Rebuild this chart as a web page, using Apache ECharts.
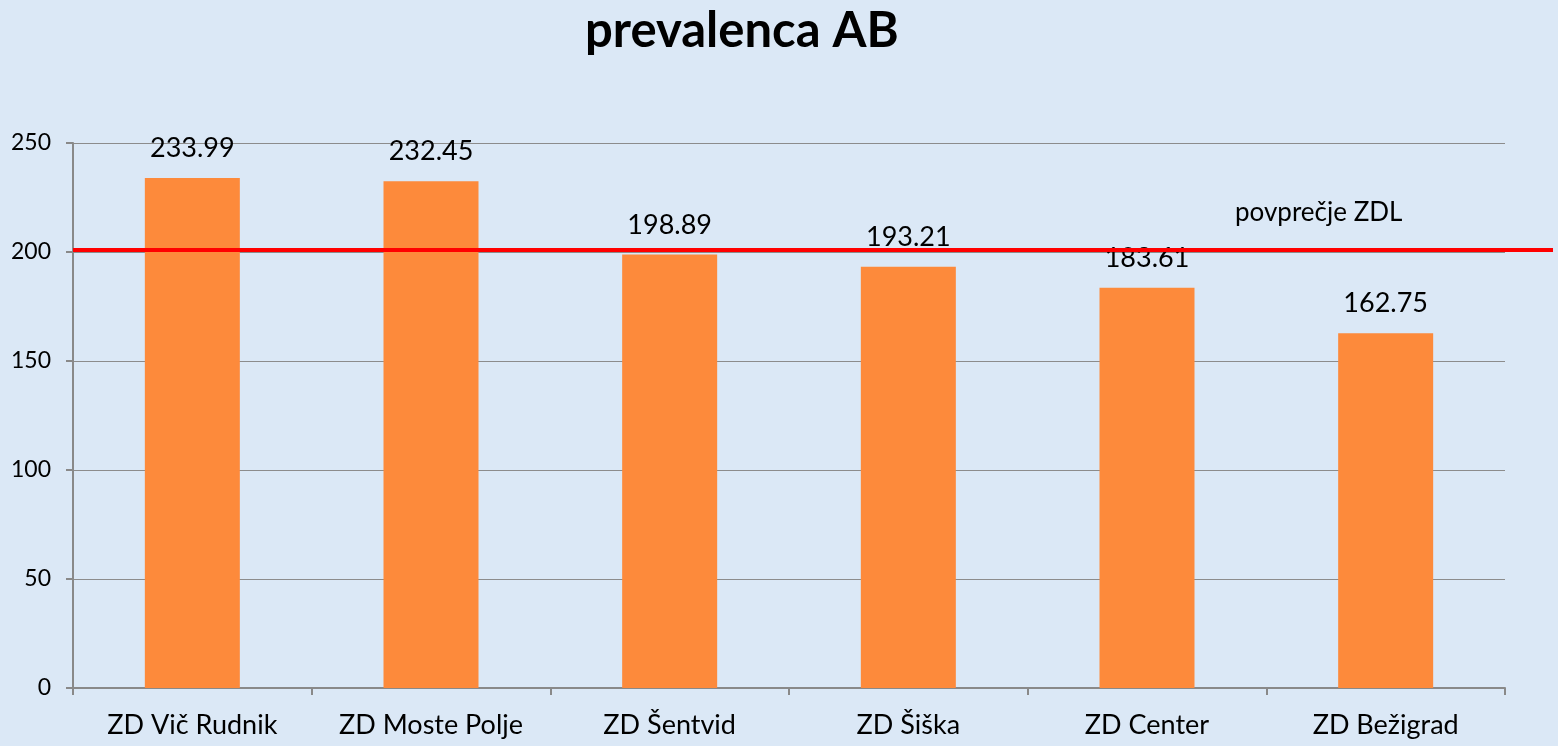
<!DOCTYPE html>
<html>
<head>
<meta charset="utf-8">
<script src="https://cdn.jsdelivr.net/npm/echarts@6/dist/echarts.min.js"></script>
<style>
html,body{margin:0;padding:0;background:#dbe8f6;}
#chart{width:1558px;height:746px;}
</style>
</head>
<body>
<div id="chart"></div>
<script>
var categories=['ZD Vič Rudnik','ZD Moste Polje','ZD Šentvid','ZD Šiška','ZD Center','ZD Bežigrad'];
var values=[233.99,232.45,198.89,193.21,183.61,162.75];
var avgValue=201;
var avgLabel='povprečje ZDL';
var yTicks=[0,50,100,150,200,250];

var font='Lato, "Open Sans", sans-serif';
var chart=echarts.init(document.getElementById('chart'));
var option={
	backgroundColor:'#dbe8f6',
	animation:false,
	title:{
		text:'prevalenca AB',
		left:580,
		top:2,
		textStyle:{fontFamily:font,fontSize:49,fontWeight:'bold',color:'#000'}
	},
	grid:{left:73,right:53,top:143,bottom:58},
	xAxis:{
		type:'category',
		data:categories,
		axisLine:{lineStyle:{color:'#898989',width:2}},
		axisTick:{show:true,length:7,lineStyle:{color:'#898989',width:2}},
		axisLabel:{interval:0,fontFamily:font,fontSize:27,color:'#000',margin:24}
	},
	yAxis:{
		type:'value',
		min:yTicks[0],
		max:yTicks[yTicks.length-1],
		interval:50,
		axisLine:{show:true,lineStyle:{color:'#898989',width:2}},
		axisTick:{show:true,length:7,lineStyle:{color:'#898989',width:2}},
		axisLabel:{fontFamily:font,fontSize:23,color:'#000',margin:22},
		splitLine:{lineStyle:{color:'#8c8c8c',width:1}}
	},
	series:[{
		type:'bar',
		data:values,
		barWidth:95,
		itemStyle:{color:'#fd8a3b'},
		label:{
			show:true,
			position:'top',
			distance:16,
			fontFamily:font,
			fontSize:27,
			color:'#000',
			formatter:function(p){return p.value.toFixed(2);}
		}
	}]
};
chart.setOption(option);

// prosečna črta sega prek celotne širine, zato jo rišem v pikslih
var py=chart.convertToPixel({yAxisIndex:0},avgValue);
chart.setOption({
	series:[{
		markLine:{
			silent:true,
			symbol:'none',
			lineStyle:{color:'#ff0000',width:4,type:'solid'},
			label:{show:false},
			data:[[{x:73,y:py},{x:1553,y:py}]]
		}
	}],
	graphic:[{
		type:'text',
		left:1235,
		top:py-50,
		style:{text:avgLabel,fontFamily:font,fontSize:26,fill:'#000'}
	}]
});
</script>
</body>
</html>
